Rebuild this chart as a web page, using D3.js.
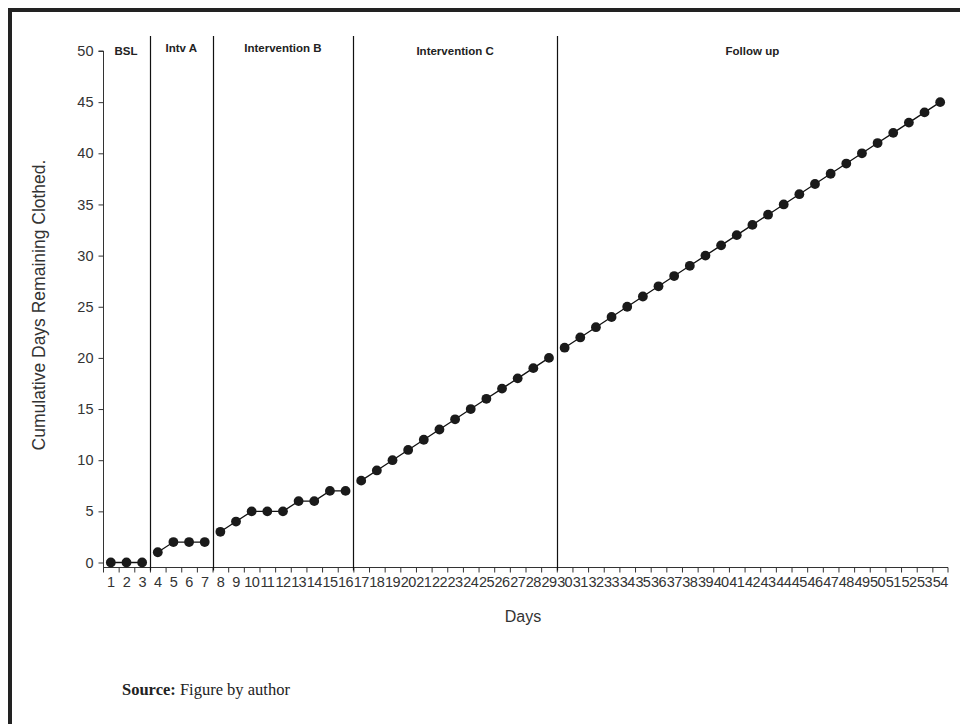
<!DOCTYPE html>
<html><head><meta charset="utf-8">
<script src="https://cdn.jsdelivr.net/npm/d3@7/dist/d3.min.js"></script>
<style>body{margin:0;background:#fff}svg{display:block}</style>
</head><body>
<svg id="c" width="960" height="724"></svg>
<script>
const days = d3.range(1, 55);
const values = [0,0,0, 1,2,2,2, 3,4,5,5,5,6,6,7,7,
  8,9,10,11,12,13,14,15,16,17,18,19,20,
  21,22,23,24,25,26,27,28,29,30,31,32,33,34,35,36,37,38,39,40,41,42,43,44,45];
const phaseNames = ["BSL","Intv A","Intervention B","Intervention C","Follow up"];
const phaseStarts = [1,4,8,17,30];
const phaseEnds = [3,7,16,29,54];
const yTicks = [0,5,10,15,20,25,30,35,40,45,50];

const svg = d3.select("#c");
// frame
svg.append("line").attr("x1",8).attr("x2",960).attr("y1",10).attr("y2",10).attr("stroke","#222").attr("stroke-width",4);
svg.append("line").attr("x1",10).attr("x2",10).attr("y1",8).attr("y2",724).attr("stroke","#222").attr("stroke-width",4);

const x = d3.scaleBand().domain(days).range([103, 948]).padding(0);
const y = d3.scaleLinear().domain([0,50]).range([562.5, 51]);
const axisY = 567.5;
const font = "Liberation Sans, Arial, sans-serif";

// y axis
const ga = svg.append("g").attr("transform","translate(103.5,0)")
  .call(d3.axisLeft(y).tickValues(yTicks).tickSize(5).tickPadding(5));
ga.select(".domain").attr("d", `M-5,${y(50)}H0V${axisY}`).attr("stroke","#333");
ga.selectAll(".tick line").attr("stroke","#333");
ga.selectAll(".tick text").attr("font-family",font).attr("font-size",14.5).attr("fill","#333");

// x axis
const gx = svg.append("g").attr("transform",`translate(0,${axisY})`)
  .call(d3.axisBottom(x).tickSize(0).tickPadding(9));
gx.select(".domain").attr("d", `M103,0H948V5`).attr("stroke","#333");
gx.selectAll(".tick text").attr("font-family",font).attr("font-size",14.5).attr("fill","#333").attr("letter-spacing","-0.6");
// ticks between categories
svg.append("g").selectAll("line").data(days).join("line")
  .attr("x1",d=>x(d)+0.5).attr("x2",d=>x(d)+0.5).attr("y1",axisY).attr("y2",axisY+5).attr("stroke","#333");

// phase lines
svg.append("g").selectAll("line").data(phaseStarts.slice(1)).join("line")
  .attr("x1",d=>Math.round(x(d))+0.5).attr("x2",d=>Math.round(x(d))+0.5)
  .attr("y1",36).attr("y2",axisY+3).attr("stroke","#111").attr("stroke-width",1.2);

// phase labels
const phaseCenters = phaseStarts.map((s,i)=> (x(s) + x(phaseEnds[i]) + x.bandwidth())/2);
svg.append("g").selectAll("text").data(phaseNames).join("text")
  .attr("x",(d,i)=> i===0 ? 126 : phaseCenters[i])
  .attr("y",(d,i)=> i===0||i>=3 ? 55 : 52)
  .attr("text-anchor","middle").attr("font-family",font).attr("font-size",11.5).attr("font-weight","bold").attr("fill","#222")
  .text(d=>d);

// lines and points per phase
const line = d3.line().x(d=>x(d[0])+x.bandwidth()/2).y(d=>y(d[1]));
phaseStarts.forEach((s,i)=>{
  const seg = days.map((d,j)=>[d, values[j]]).filter(p=>p[0]>=s && p[0]<=phaseEnds[i]);
  svg.append("path").attr("d",line(seg)).attr("fill","none").attr("stroke","#111").attr("stroke-width",1.3);
});
svg.append("g").selectAll("circle").data(days).join("circle")
  .attr("cx",d=>x(d)+x.bandwidth()/2).attr("cy",(d,i)=>y(values[i])).attr("r",4.9).attr("fill","#1a1a1a");

// axis titles
svg.append("text").attr("transform","translate(45,305) rotate(-90)").attr("text-anchor","middle")
  .attr("font-family",font).attr("font-size",17.5).attr("fill","#333").text("Cumulative Days Remaining Clothed.");
svg.append("text").attr("x",523).attr("y",622).attr("text-anchor","middle")
  .attr("font-family",font).attr("font-size",16).attr("fill","#333").text("Days");

// source
const src = svg.append("text").attr("x",122).attr("y",695).attr("font-family","Liberation Serif, Times New Roman, serif").attr("font-size",16.5).attr("fill","#222");
src.append("tspan").attr("font-weight","bold").text("Source:");
src.append("tspan").text(" Figure by author");
</script>
</body></html>
